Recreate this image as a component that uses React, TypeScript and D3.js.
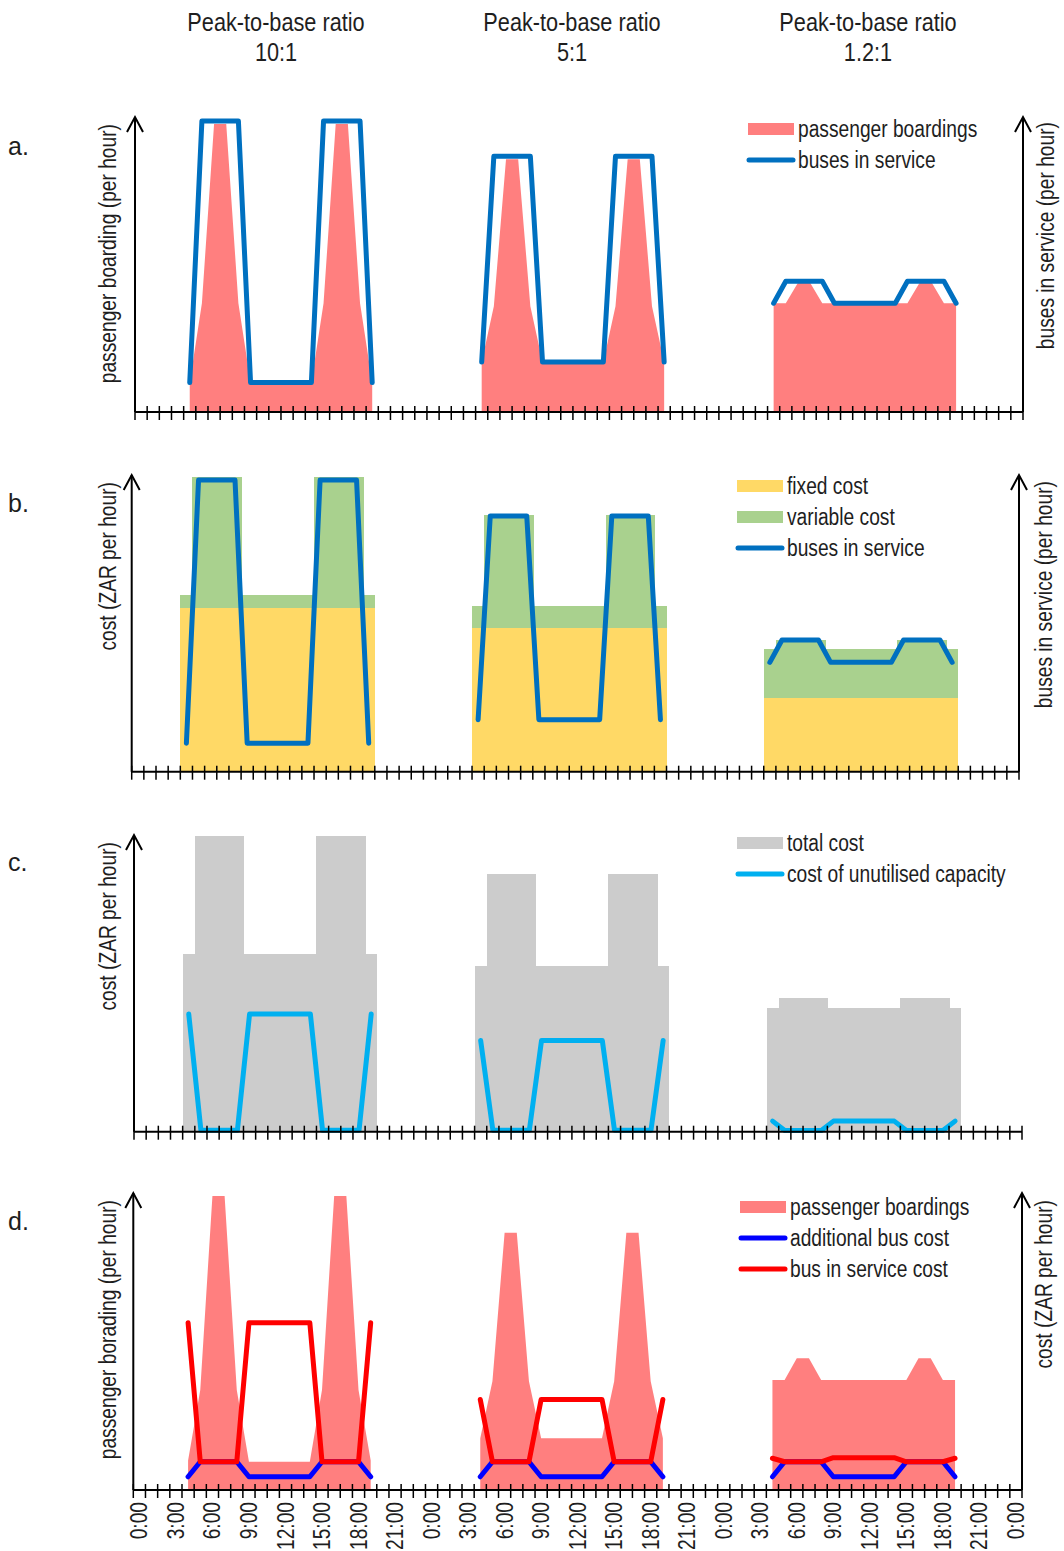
import * as d3 from "d3";

// no narrow face installed: Liberation Sans squeezed horizontally stands in for Arial Narrow
const FONT = "'Liberation Sans', Arial, sans-serif";
const NARROW = 0.835;
const W = 1064;
const H = 1551;

// x axis: 73 hourly categories (3 days + closing 0:00)
const N_CATS = 73;
const HOUR_LABELS = ["0:00", "3:00", "6:00", "9:00", "12:00", "15:00", "18:00", "21:00"];
const SERVICE_HOURS = [4, 5, 6, 7, 8, 9, 10, 11, 12, 13, 14, 15, 16, 17, 18, 19];
const DAY_OFFSETS = [0, 24, 48];
const RATIOS = ["10:1", "5:1", "1.2:1"];

// a. passenger boardings / buses in service (relative index per hour)
const boardingsA = [
	[10, 37, 98, 98, 37, 10, 10, 10, 10, 10, 10, 37, 98, 98, 37, 10],
	[17, 36, 86, 86, 36, 17, 17, 17, 17, 17, 17, 36, 86, 86, 36, 17],
	[37, 37, 44, 44, 37, 37, 37, 37, 37, 37, 37, 37, 44, 44, 37, 37],
];
const busesA = [
	[10, 99, 99, 99, 99, 10, 10, 10, 10, 10, 10, 99, 99, 99, 99, 10],
	[17, 87, 87, 87, 87, 17, 17, 17, 17, 17, 17, 87, 87, 87, 87, 17],
	[37, 44.5, 44.5, 44.5, 44.5, 37, 37, 37, 37, 37, 37, 44.5, 44.5, 44.5, 44.5, 37],
];

// b. fixed + variable cost, buses in service
const fixedB = [55.6, 49, 25];
const variableB = [
	[4.5, 44.7, 44.7, 44.7, 44.7, 4.5, 4.5, 4.5, 4.5, 4.5, 4.5, 44.7, 44.7, 44.7, 44.7, 4.5],
	[7.5, 38.4, 38.4, 38.4, 38.4, 7.5, 7.5, 7.5, 7.5, 7.5, 7.5, 38.4, 38.4, 38.4, 38.4, 7.5],
	[16.6, 19.8, 19.8, 19.8, 19.8, 16.6, 16.6, 16.6, 16.6, 16.6, 16.6, 19.8, 19.8, 19.8, 19.8, 16.6],
];
const busesB = [
	[9.7, 99.2, 99.2, 99.2, 99.2, 9.7, 9.7, 9.7, 9.7, 9.7, 9.7, 99.2, 99.2, 99.2, 99.2, 9.7],
	[17.7, 87, 87, 87, 87, 17.7, 17.7, 17.7, 17.7, 17.7, 17.7, 87, 87, 87, 87, 17.7],
	[37.2, 44.8, 44.8, 44.8, 44.8, 37.2, 37.2, 37.2, 37.2, 37.2, 37.2, 44.8, 44.8, 44.8, 44.8, 37.2],
];

// c. total cost, cost of unutilised capacity
const totalC = [
	[60.3, 100.6, 100.6, 100.6, 100.6, 60.3, 60.3, 60.3, 60.3, 60.3, 60.3, 100.6, 100.6, 100.6, 100.6, 60.3],
	[56.5, 87.8, 87.8, 87.8, 87.8, 56.5, 56.5, 56.5, 56.5, 56.5, 56.5, 87.8, 87.8, 87.8, 87.8, 56.5],
	[42, 45.4, 45.4, 45.4, 45.4, 42, 42, 42, 42, 42, 42, 45.4, 45.4, 45.4, 45.4, 42],
];
const unusedC = [
	[40, 0.5, 0.5, 0.5, 0.5, 40, 40, 40, 40, 40, 40, 0.5, 0.5, 0.5, 0.5, 40],
	[31, 0.5, 0.5, 0.5, 0.5, 31, 31, 31, 31, 31, 31, 0.5, 0.5, 0.5, 0.5, 31],
	[3.6, 0.4, 0.4, 0.4, 0.4, 3.6, 3.6, 3.6, 3.6, 3.6, 3.6, 0.4, 0.4, 0.4, 0.4, 3.6],
];

// d. boardings, additional bus cost, bus in service cost
const boardingsD = [
	[10, 34, 100, 100, 34, 9.6, 9.6, 9.6, 9.6, 9.6, 9.6, 34, 100, 100, 34, 10],
	[17.6, 37, 87.5, 87.5, 37, 17.6, 17.6, 17.6, 17.6, 17.6, 17.6, 37, 87.5, 87.5, 37, 17.6],
	[37.4, 37.4, 44.8, 44.8, 37.4, 37.4, 37.4, 37.4, 37.4, 37.4, 37.4, 37.4, 44.8, 44.8, 37.4, 37.4],
];
const addBusD = [
	[4.5, 9.6, 9.6, 9.6, 9.6, 4.5, 4.5, 4.5, 4.5, 4.5, 4.5, 9.6, 9.6, 9.6, 9.6, 4.5],
	[4.5, 9.6, 9.6, 9.6, 9.6, 4.5, 4.5, 4.5, 4.5, 4.5, 4.5, 9.6, 9.6, 9.6, 9.6, 4.5],
	[4.5, 9.6, 9.6, 9.6, 9.6, 4.5, 4.5, 4.5, 4.5, 4.5, 4.5, 9.6, 9.6, 9.6, 9.6, 4.5],
];
const busCostD = [
	[56.9, 9.6, 9.6, 9.6, 9.6, 56.9, 56.9, 56.9, 56.9, 56.9, 56.9, 9.6, 9.6, 9.6, 9.6, 56.9],
	[30.8, 9.6, 9.6, 9.6, 9.6, 30.8, 30.8, 30.8, 30.8, 30.8, 30.8, 9.6, 9.6, 9.6, 9.6, 30.8],
	[10.8, 9.6, 9.6, 9.6, 9.6, 11, 11, 11, 11, 11, 11, 9.6, 9.6, 9.6, 9.6, 10.8],
];

const C = {
	pink: "#ff7f7f",
	blue: "#0070c0",
	yellow: "#ffd966",
	green: "#a9d18e",
	grey: "#cccccc",
	cyan: "#00b0f0",
	pureBlue: "#0000ff",
	red: "#ff0000",
	ink: "#1e1e1e",
};

type Frame = { left: number; right: number; axisY: number; top: number; rightAxis: boolean };

const FRAMES: Record<string, Frame> = {
	a: { left: 135, right: 1023, axisY: 412, top: 117, rightAxis: true },
	b: { left: 131.7, right: 1019, axisY: 771.7, top: 475, rightAxis: true },
	c: { left: 134, right: 1022, axisY: 1131.7, top: 835, rightAxis: false },
	d: { left: 133.3, right: 1022, axisY: 1490, top: 1193, rightAxis: true },
};

function scales(f: Frame) {
	const x = d3.scaleLinear().domain([0, N_CATS]).range([f.left, f.right]);
	const y = d3.scaleLinear().domain([0, 100]).range([f.axisY, f.axisY - 294]);
	return { x, y };
}

function Txt({
	x,
	y,
	text,
	size = 23,
	anchor = "start",
	rotate = 0,
	dy = "0.35em",
}: {
	x: number;
	y: number;
	text: string;
	size?: number;
	anchor?: string;
	rotate?: number;
	dy?: string;
}) {
	return (
		<text
			transform={`translate(${x},${y}) rotate(${rotate}) scale(${NARROW},1)`}
			textAnchor={anchor}
			dy={dy}
			fontSize={size}
			fill={C.ink}
			fontFamily={FONT}
		>
			{text}
		</text>
	);
}

function Axes({ f }: { f: Frame }) {
	const { x } = scales(f);
	const ticks = d3.range(N_CATS + 1);
	const arrow = (ax: number) => `M${ax - 8},${f.top + 15}L${ax},${f.top}L${ax + 8},${f.top + 15}`;
	return (
		<g stroke="#000" fill="none">
			<line x1={f.left} x2={x(N_CATS)} y1={f.axisY} y2={f.axisY} strokeWidth={2} />
			{ticks.map((t) => (
				<line key={t} x1={x(t)} x2={x(t)} y1={f.axisY - 6} y2={f.axisY + 8} strokeWidth={1.5} />
			))}
			<line x1={f.left} x2={f.left} y1={f.axisY} y2={f.top} strokeWidth={2} />
			<path d={arrow(f.left)} strokeWidth={2} />
			{f.rightAxis && (
				<>
					<line x1={f.right} x2={f.right} y1={f.axisY} y2={f.top} strokeWidth={2} />
					<path d={arrow(f.right)} strokeWidth={2} />
				</>
			)}
		</g>
	);
}

function AreaSeries({ f, data, color }: { f: Frame; data: number[][]; color: string }) {
	const { x, y } = scales(f);
	return (
		<g>
			{data.map((vals, d) => {
				const area = d3
					.area<number>()
					.x((_, i) => x(DAY_OFFSETS[d] + SERVICE_HOURS[i] + 0.5))
					.y0(y(0))
					.y1((v) => y(v));
				return <path key={d} d={area(vals) ?? ""} fill={color} />;
			})}
		</g>
	);
}

function LineSeries({ f, data, color }: { f: Frame; data: number[][]; color: string }) {
	const { x, y } = scales(f);
	return (
		<g>
			{data.map((vals, d) => {
				const line = d3
					.line<number>()
					.x((_, i) => x(DAY_OFFSETS[d] + SERVICE_HOURS[i] + 0.5))
					.y((v) => y(v));
				return (
					<path
						key={d}
						d={line(vals) ?? ""}
						fill="none"
						stroke={color}
						strokeWidth={5}
						strokeLinecap="round"
						strokeLinejoin="round"
					/>
				);
			})}
		</g>
	);
}

function Columns({ f, data, base, color }: { f: Frame; data: number[][]; base?: number[]; color: string }) {
	const { x, y } = scales(f);
	return (
		<g shapeRendering="crispEdges">
			{data.map((vals, d) =>
				vals.map((v, i) => {
					const h = DAY_OFFSETS[d] + SERVICE_HOURS[i];
					const b = base ? base[d] : 0;
					const last = i === vals.length - 1;
					return (
						<rect
							key={`${d}-${i}`}
							x={x(h)}
							width={x(h + 1) - x(h) + (last ? 0 : 1)}
							y={y(b + v)}
							height={y(b) - y(b + v)}
							fill={color}
						/>
					);
				}),
			)}
		</g>
	);
}

type LegendItem = { label: string; color: string; kind: "box" | "line" };

function Legend({ x, y, items }: { x: number; y: number; items: LegendItem[] }) {
	return (
		<g>
			{items.map((it, i) => {
				const cy = y + i * 31;
				return (
					<g key={it.label}>
						{it.kind === "box" ? (
							<rect x={x} y={cy - 6} width={46} height={12} fill={it.color} />
						) : (
							<line x1={x + 1} x2={x + 45} y1={cy} y2={cy} stroke={it.color} strokeWidth={5} strokeLinecap="round" />
						)}
						<Txt x={x + 50} y={cy} text={it.label} />
					</g>
				);
			})}
		</g>
	);
}

const VLabel = ({ x, y, text }: { x: number; y: number; text: string }) => (
	<Txt x={x} y={y} text={text} anchor="end" rotate={-90} />
);

export default function App() {
	const fa = FRAMES.a;
	const fb = FRAMES.b;
	const fc = FRAMES.c;
	const fd = FRAMES.d;
	const xd = scales(fd).x;
	const labelCats = d3.range(0, N_CATS, 3);
	const titleX = [276, 572, 868];
	const letters: [string, number][] = [
		["a.", 146],
		["b.", 503],
		["c.", 862],
		["d.", 1221],
	];

	return (
		<svg width={W} height={H} style={{ position: "absolute", left: 0, top: 0, background: "#fff" }}>
			{/* column titles */}
			{RATIOS.map((r, i) => (
				<g key={r}>
					<Txt x={titleX[i]} y={22} text="Peak-to-base ratio" size={26} anchor="middle" />
					<Txt x={titleX[i]} y={52} text={r} size={26} anchor="middle" />
				</g>
			))}

			{/* panel letters */}
			{letters.map(([t, y]) => (
				<text key={t} x={8} y={y} dy="0.35em" fontSize={25} fill={C.ink} fontFamily={FONT}>
					{t}
				</text>
			))}

			{/* a. */}
			<AreaSeries f={fa} data={boardingsA} color={C.pink} />
			<LineSeries f={fa} data={busesA} color={C.blue} />
			<Axes f={fa} />
			<VLabel x={108} y={124} text="passenger boarding (per hour)" />
			<VLabel x={1046} y={122} text="buses in service (per hour)" />
			<Legend
				x={748}
				y={129}
				items={[
					{ label: "passenger boardings", color: C.pink, kind: "box" },
					{ label: "buses in service", color: C.blue, kind: "line" },
				]}
			/>

			{/* b. */}
			<Columns f={fb} data={fixedB.map((v) => SERVICE_HOURS.map(() => v))} color={C.yellow} />
			<Columns f={fb} data={variableB} base={fixedB} color={C.green} />
			<LineSeries f={fb} data={busesB} color={C.blue} />
			<Axes f={fb} />
			<VLabel x={108} y={482} text="cost (ZAR per hour)" />
			<VLabel x={1044} y={481} text="buses in service (per hour)" />
			<Legend
				x={737}
				y={486}
				items={[
					{ label: "fixed cost", color: C.yellow, kind: "box" },
					{ label: "variable cost", color: C.green, kind: "box" },
					{ label: "buses in service", color: C.blue, kind: "line" },
				]}
			/>

			{/* c. */}
			<Columns f={fc} data={totalC} color={C.grey} />
			<LineSeries f={fc} data={unusedC} color={C.cyan} />
			<Axes f={fc} />
			<VLabel x={108} y={842} text="cost (ZAR per hour)" />
			<Legend
				x={737}
				y={843}
				items={[
					{ label: "total cost", color: C.grey, kind: "box" },
					{ label: "cost of unutilised capacity", color: C.cyan, kind: "line" },
				]}
			/>

			{/* d. */}
			<AreaSeries f={fd} data={boardingsD} color={C.pink} />
			<LineSeries f={fd} data={addBusD} color={C.pureBlue} />
			<LineSeries f={fd} data={busCostD} color={C.red} />
			<Axes f={fd} />
			<VLabel x={108} y={1200} text="passenger borading (per hour)" />
			<VLabel x={1044} y={1200} text="cost (ZAR per hour)" />
			<Legend
				x={740}
				y={1207}
				items={[
					{ label: "passenger boardings", color: C.pink, kind: "box" },
					{ label: "additional bus cost", color: C.pureBlue, kind: "line" },
					{ label: "bus in service cost", color: C.red, kind: "line" },
				]}
			/>

			{/* time labels */}
			{labelCats.map((k) => (
				<Txt key={k} x={xd(k + 0.5)} y={1502} text={HOUR_LABELS[(k % 24) / 3]} anchor="end" rotate={-90} />
			))}
		</svg>
	);
}
